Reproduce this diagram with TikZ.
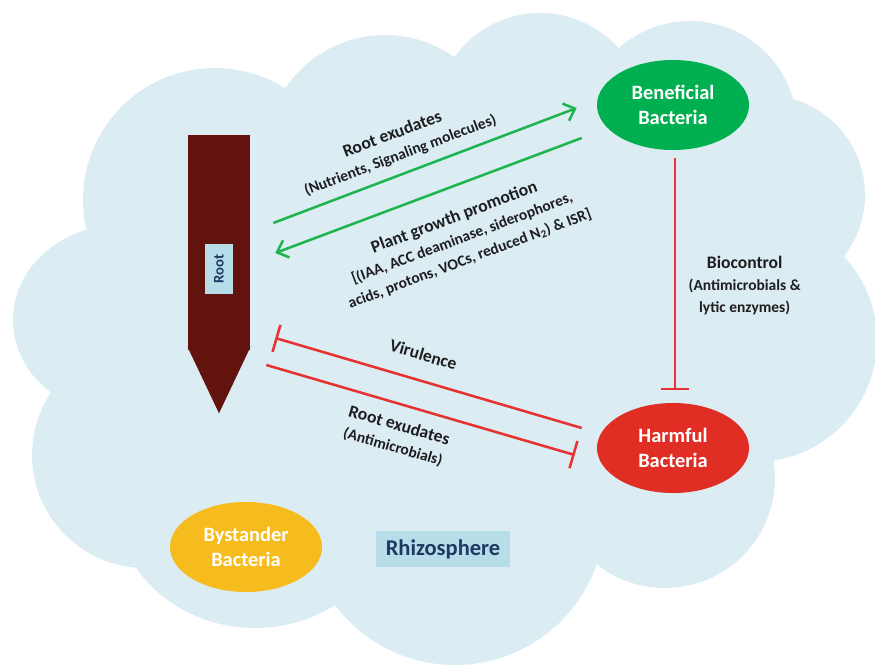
\documentclass[tikz,border=0pt]{standalone}
\usepackage{fontspec}
\setmainfont{Carlito}
\usepackage{xcolor}
\usetikzlibrary{shapes.geometric, arrows.meta, positioning, calc}
\definecolor{rcloud}{RGB}{219, 236, 243}
\definecolor{rbox}{RGB}{183, 222, 232}
\definecolor{rnavy}{RGB}{31, 56, 100}
\definecolor{rroot}{RGB}{98, 19, 14}
\definecolor{rgreen}{RGB}{0, 176, 80}
\definecolor{rred}{RGB}{224, 46, 36}
\definecolor{ryellow}{RGB}{246, 188, 30}
\definecolor{rarrow}{RGB}{30, 180, 80}
\definecolor{rinhib}{RGB}{232, 50, 50}
\definecolor{rtext}{RGB}{30, 30, 30}
\newcommand{\subtxt}[1]{{\fontsize{11}{14.5}\selectfont #1}}

\begin{document}
\begin{tikzpicture}[x=0.025cm, y=-0.025cm,
    bact/.style={ellipse, minimum width=3.8cm, minimum height=2.25cm, inner sep=0pt, align=center, text=white, font=\fontsize{14.5}{17.5}\selectfont\bfseries},
    lbl/.style={font=\fontsize{12.5}{15.5}\selectfont\bfseries, text=rtext, align=center, inner sep=1pt},
    tag/.style={fill=rbox, text=rnavy, font=\bfseries},
    feed/.style={draw=rarrow, line width=1.8pt, -{Straight Barb[length=7pt, width=13pt]}},
    block/.style={draw=rinhib, line width=1.8pt, -{Bar[width=20pt]}},
]
    \useasboundingbox (0,0) rectangle (875,670);

    % Rhizosphere cloud
    \fill[rcloud] (460,330) ellipse [x radius=300, y radius=220];
    \fill[rcloud] (215,200) circle [radius=132];
    \fill[rcloud] (120,320) ellipse [x radius=107, y radius=95];
    \fill[rcloud] (145,455) circle [radius=113];
    \fill[rcloud] (255,500) ellipse [x radius=140, y radius=128];
    \fill[rcloud] (455,515) circle [radius=150];
    \fill[rcloud] (665,478) circle [radius=110];
    \fill[rcloud] (755,340) circle [radius=122];
    \fill[rcloud] (765,195) circle [radius=100];
    \fill[rcloud] (690,128) circle [radius=107];
    \fill[rcloud] (540,118) circle [radius=105];
    \fill[rcloud] (385,155) circle [radius=120];

    % Root
    \node[fill=rroot, minimum width=1.55cm, minimum height=5.375cm, inner sep=0pt] (root) at (219,242.5) {};
    \fill[rroot] ($(root.south west)+(0,-3)$) -- ($(root.south east)+(0,-3)$) -- ($(root.south)+(0,63)$) -- cycle;
    \node[tag, rotate=90, minimum width=1.225cm, minimum height=0.7cm, inner sep=0pt, font=\fontsize{10.5}{12}\selectfont\bfseries] (rootlbl) at ($(root.center)+(0,26.5)$) {Root};

    % Bacteria
    \node[bact, fill=rgreen] (bene) at (673,105) {Beneficial\\Bacteria};
    \node[bact, fill=rred] (harm) at (673,448) {Harmful\\Bacteria};
    \node[bact, fill=ryellow] (byst) at (246,547) {Bystander\\Bacteria};
    \node[tag, minimum width=3.35cm, minimum height=0.9cm, font=\fontsize{16}{19}\selectfont\bfseries] (rhizo) at (443,549) {Rhizosphere};

    % Root <-> beneficial
    \draw[feed] ($(root.east)+(23,-19.5)$) -- node[lbl, sloped, pos=0.44, above=6pt] {Root exudates\\\subtxt{(Nutrients, Signaling molecules)}} ($(bene.west)+(-20,3)$);
    \draw[feed] ($(bene.west)+(-15,33)$) -- node[lbl, sloped, pos=0.45, below=14pt] {Plant growth promotion\\\subtxt{[(IAA, ACC deaminase, siderophores,}\\\subtxt{acids, protons, VOCs, reduced N\textsubscript{2}) \& ISR]}} ($(root.east)+(25,10.5)$);

    % Root <-> harmful
    \draw[block] ($(harm.west)+(-15,-20)$) -- node[lbl, sloped, pos=0.54, above=12pt] {Virulence} ($(root.east)+(25,95.5)$);
    \draw[block] ($(root.east)+(16,122.5)$) -- node[lbl, sloped, pos=0.45, below=8pt] {Root exudates\\\subtxt{(Antimicrobials)}} ($(harm.west)+(-22,7)$);

    % Biocontrol
    \draw[block, line width=1.5pt] ($(bene.south)+(2,8)$) -- node[lbl, pos=0.55, right=8pt] {Biocontrol\\\subtxt{(Antimicrobials \&}\\\subtxt{lytic enzymes)}} ($(harm.north)+(2,-13)$);
\end{tikzpicture}
\end{document}
